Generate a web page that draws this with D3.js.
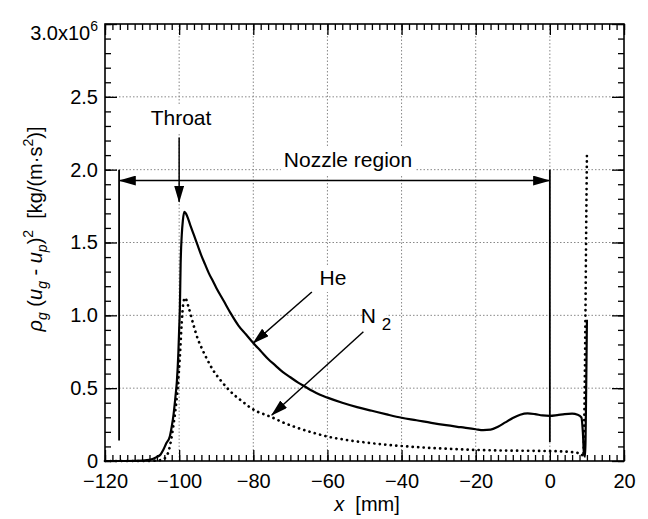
<!DOCTYPE html>
<html>
<head>
<meta charset="utf-8">
<script src="https://cdn.jsdelivr.net/npm/d3@7"></script>
<style>
  body { margin: 0; background: #fff; }
  text { font-family: "Liberation Sans", Arial, sans-serif; fill: #000; }
</style>
</head>
<body>
<div class="grafico"></div>
<script>
// Valori (y in unita' di 10^6 kg/(m s^2))
var heX = [-120, -114, -110, -108, -107, -106, -105, -104.3, -103.5, -102.5, -102, -101.5, -101, -100.6, -100.2, -100, -99.8, -99.6, -99.3, -99, -98.6, -98.2,
  -97, -96, -95, -94, -93, -92, -91, -90, -88, -86, -84, -82, -80, -78, -76, -74, -72, -70, -68, -66, -64, -62, -60,
  -56, -52, -48, -44, -40, -36, -32, -28, -24, -20, -18, -16, -14, -12, -10, -8, -6, -4, -2, 0, 2, 4, 6, 7.5, 8.5, 8.9, 9.2, 9.5, 9.8, 10.0];
var heY = [0, 0, 0.003, 0.008, 0.015, 0.028, 0.045, 0.075, 0.12, 0.17, 0.235, 0.32, 0.44, 0.55, 0.75, 0.9, 1.05, 1.35, 1.55, 1.65, 1.71, 1.70,
  1.62, 1.55, 1.48, 1.41, 1.35, 1.29, 1.24, 1.19, 1.10, 1.01, 0.93, 0.87, 0.81, 0.755, 0.70, 0.655, 0.61, 0.575, 0.54, 0.51, 0.48, 0.455, 0.435,
  0.40, 0.37, 0.345, 0.32, 0.297, 0.28, 0.262, 0.246, 0.232, 0.218, 0.212, 0.215, 0.235, 0.265, 0.295, 0.318, 0.327, 0.322, 0.313, 0.31, 0.315, 0.322, 0.325, 0.318, 0.30, 0.2, 0.05, 0.03, 0.5, 0.97];

var n2X = [-120, -110, -106, -104.5, -103.5, -102.8, -102.2, -101.6, -101, -100.4, -99.8, -99.3, -98.9, -98.4, -97.5, -96.2, -95, -94, -92.5, -91, -89, -87, -85, -83, -81,
  -79, -77, -75, -72, -68, -64, -60, -55, -50, -45, -40, -35, -30, -25, -20, -15, -10, -5, 0, 4, 7, 8.5, 9.0, 9.3, 9.6, 9.8, 10.0];
var n2Y = [0, 0, 0.003, 0.01, 0.03, 0.07, 0.14, 0.235, 0.35, 0.5, 0.72, 0.95, 1.08, 1.12, 1.06, 0.94, 0.84, 0.78, 0.70, 0.63, 0.56, 0.50, 0.45, 0.41, 0.37,
  0.34, 0.32, 0.30, 0.265, 0.227, 0.195, 0.168, 0.145, 0.128, 0.114, 0.103, 0.094, 0.087, 0.081, 0.076, 0.073, 0.071, 0.07, 0.068, 0.065, 0.058, 0.05, 0.03, 0.3, 1.0, 1.6, 2.1];

var xTicks = [-120, -100, -80, -60, -40, -20, 0, 20];
var yTicks = [0, 0.5, 1.0, 1.5, 2.0, 2.5, 3.0];
var yTickLabels = ["0", "0.5", "1.0", "1.5", "2.0", "2.5", "3.0x10"];

var w = 648,
    h = 519;

var svg = d3.select(".grafico")
  .append("svg")
  .attr("width", w)
  .attr("height", h);

var x = d3.scaleLinear().domain([-120, 20]).range([105, 624]);
var y = d3.scaleLinear().domain([0, 3]).range([461, 24]);

var minX = d3.range(-120, 20.01, 2);
var minY = d3.range(0, 3.001, 0.1);

// Griglia tratteggiata
svg.append("g").selectAll("line")
  .data(xTicks.slice(1, -1))
  .enter().append("line")
  .attr("x1", function (d) { return x(d); })
  .attr("x2", function (d) { return x(d); })
  .attr("y1", y(0)).attr("y2", y(3))
  .attr("stroke", "#888").attr("stroke-width", 1).attr("stroke-dasharray", "1.5 2");
svg.append("g").selectAll("line")
  .data(yTicks.slice(1, -1))
  .enter().append("line")
  .attr("x1", x(-120)).attr("x2", x(20))
  .attr("y1", function (d) { return y(d); })
  .attr("y2", function (d) { return y(d); })
  .attr("stroke", "#888").attr("stroke-width", 1).attr("stroke-dasharray", "1.5 2");

// Assi con tacche verso l'interno
function tacche(asse, pos, scala, valori, lung) {
  var g = svg.append("g")
    .attr("transform", pos)
    .call(asse(scala).tickValues(valori).tickSize(-lung).tickFormat(""));
  g.select(".domain").remove();
  g.selectAll("line").attr("stroke", "#000").attr("stroke-width", 1.3);
  return g;
}
tacche(d3.axisBottom, "translate(0," + y(0) + ")", x, minX, 6);
tacche(d3.axisBottom, "translate(0," + y(0) + ")", x, xTicks, 11);
tacche(d3.axisTop, "translate(0," + y(3) + ")", x, minX, 6);
tacche(d3.axisTop, "translate(0," + y(3) + ")", x, xTicks, 11);
tacche(d3.axisLeft, "translate(" + x(-120) + ",0)", y, minY, 6);
tacche(d3.axisLeft, "translate(" + x(-120) + ",0)", y, yTicks, 12);
tacche(d3.axisRight, "translate(" + x(20) + ",0)", y, minY, 6);
tacche(d3.axisRight, "translate(" + x(20) + ",0)", y, yTicks, 12);

// Etichette
var gx = svg.append("g")
  .attr("transform", "translate(0," + y(0) + ")")
  .call(d3.axisBottom(x).tickValues(xTicks).tickSize(0).tickPadding(13));
gx.select(".domain").remove();
gx.attr("font-family", null).attr("font-size", 20);

var gy = svg.append("g")
  .attr("transform", "translate(" + x(-120) + ",0)")
  .call(d3.axisLeft(y).tickValues(yTicks).tickSize(0).tickPadding(7)
    .tickFormat(function (d, i) { return yTickLabels[i]; }));
gy.select(".domain").remove();
gy.attr("font-family", null).attr("font-size", 20);
gy.selectAll("text").filter(function (d) { return d === 3; })
  .attr("dy", "0.75em")
  .append("tspan").attr("dy", -9).attr("font-size", 14).text("6");

// Cornice
svg.append("rect")
  .attr("x", x(-120)).attr("y", y(3))
  .attr("width", x(20) - x(-120)).attr("height", y(0) - y(3))
  .attr("fill", "none").attr("stroke", "#000").attr("stroke-width", 1.6);

// Curve
var linea = d3.line()
  .x(function (d) { return x(d[0]); })
  .y(function (d) { return y(d[1]); })
  .curve(d3.curveMonotoneX);

svg.append("path")
  .datum(d3.zip(n2X, n2Y))
  .attr("d", linea)
  .attr("fill", "none").attr("stroke", "#000").attr("stroke-width", 2.7)
  .attr("stroke-linecap", "round").attr("stroke-dasharray", "0.1 5.4");

svg.append("path")
  .datum(d3.zip(heX, heY))
  .attr("d", linea)
  .attr("fill", "none").attr("stroke", "#000").attr("stroke-width", 2.2);

// Frecce
svg.append("defs").append("marker")
  .attr("id", "freccia")
  .attr("markerUnits", "userSpaceOnUse")
  .attr("markerWidth", 17).attr("markerHeight", 10)
  .attr("refX", 16).attr("refY", 5)
  .attr("orient", "auto-start-reverse")
  .append("path").attr("d", "M0,0L17,5L0,10z").attr("fill", "#000");

function etichetta(testo, cx, by, size) {
  var t = svg.append("text")
    .attr("x", cx).attr("y", by)
    .attr("text-anchor", "middle")
    .attr("font-size", size)
    .text(testo);
  var b = t.node().getBBox();
  svg.insert("rect", function () { return t.node(); })
    .attr("x", b.x - 3).attr("y", b.y - 1)
    .attr("width", b.width + 6).attr("height", b.height + 4)
    .attr("fill", "#fff");
  return t;
}

function freccia(x1, y1, x2, y2, doppia) {
  var l = svg.append("line")
    .attr("x1", x(x1)).attr("y1", y(y1))
    .attr("x2", x(x2)).attr("y2", y(y2))
    .attr("stroke", "#000").attr("stroke-width", 1.5)
    .attr("marker-end", "url(#freccia)");
  if (doppia) l.attr("marker-start", "url(#freccia)");
}

// Regione dell'ugello
svg.append("line")
  .attr("x1", x(-116.2)).attr("x2", x(-116.2))
  .attr("y1", y(2.0)).attr("y2", y(0.14))
  .attr("stroke", "#000").attr("stroke-width", 1.8);
svg.append("line")
  .attr("x1", x(0)).attr("x2", x(0))
  .attr("y1", y(2.0)).attr("y2", y(0.13))
  .attr("stroke", "#000").attr("stroke-width", 1.8);
freccia(-116.0, 1.925, -0.2, 1.925, true);
etichetta("Nozzle region", 348, 167, 21);

etichetta("Throat", 181, 125, 21);
freccia(-100, 2.22, -100, 1.78, false);

etichetta("He", 333, 285, 21);
freccia(-64.2, 1.16, -80.0, 0.81, false);

var n2 = etichetta("N", 376, 323, 21);
n2.append("tspan").attr("dx", 6).attr("dy", 7).attr("font-size", 17).text("2");
freccia(-50.3, 0.887, -75.0, 0.316, false);

// Titoli degli assi
var tx = svg.append("text")
  .attr("x", 367).attr("y", 511)
  .attr("text-anchor", "middle")
  .attr("font-size", 20);
tx.append("tspan").attr("font-style", "italic").text("x");
tx.append("tspan").text("\u00a0\u00a0[mm]");

var ty = svg.append("text")
  .attr("transform", "translate(42,229) rotate(-90)")
  .attr("text-anchor", "middle")
  .attr("font-size", 20);
ty.append("tspan").attr("font-style", "italic").text("\u03c1");
ty.append("tspan").attr("font-style", "italic").attr("font-size", 14).attr("dy", 5).text("g");
ty.append("tspan").attr("dy", -5).text("\u00a0(");
ty.append("tspan").attr("font-style", "italic").text("u");
ty.append("tspan").attr("font-style", "italic").attr("font-size", 14).attr("dy", 5).text("g");
ty.append("tspan").attr("dy", -5).text("\u00a0-\u00a0");
ty.append("tspan").attr("font-style", "italic").text("u");
ty.append("tspan").attr("font-style", "italic").attr("font-size", 14).attr("dy", 5).text("p");
ty.append("tspan").attr("dy", -5).text(")");
ty.append("tspan").attr("font-size", 14).attr("dy", -9).text("2");
ty.append("tspan").attr("dy", 9).text("\u00a0\u00a0[kg/(m\u00b7s");
ty.append("tspan").attr("font-size", 14).attr("dy", -9).text("2");
ty.append("tspan").attr("dy", 9).text(")]");
</script>
</body>
</html>
